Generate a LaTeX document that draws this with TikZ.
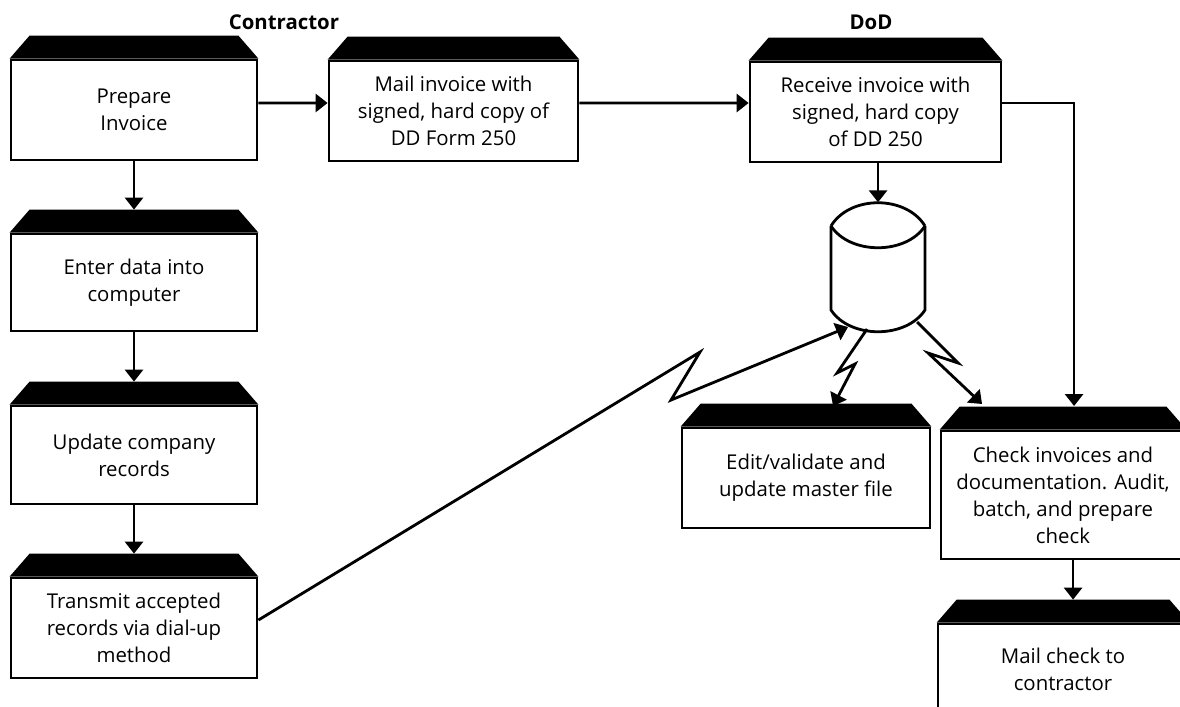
\documentclass[tikz,border=0pt]{standalone}
\usepackage{fontspec}
\setmainfont{Open Sans}
\usetikzlibrary{arrows.meta,calc}
\tikzset{
  docbox/.style={draw=black,line width=0.8pt,align=center,inner sep=0pt,
    font=\fontsize{5.8}{7.7}\selectfont},
  headlabel/.style={inner sep=0pt,font=\fontsize{5.8}{7.7}\selectfont\bfseries},
  link/.style={draw=black,line width=0.8pt,-{Triangle[length=1.2mm,width=1.8mm]}},
}
\begin{document}
\begin{tikzpicture}[scale=0.1]
\useasboundingbox (0,0) rectangle (118,-70.7);
\node [headlabel] (contractor) at (28.4,-2.2) {Contractor};
\node [headlabel] (dod) at (87.1,-2.2) {DoD};
\node [docbox,minimum width=2.46cm,minimum height=1cm] (prepare) at (13.4,-11) {Prepare\\Invoice};
\node [docbox,minimum width=2.49cm,minimum height=1cm] (mail) at (45.35,-11.1) {Mail invoice with\\signed, hard copy of\\DD Form 250};
\node [docbox,minimum width=2.51cm,minimum height=1cm] (receive) at (87.55,-11.2) {Receive invoice with\\signed, hard copy\\of DD 250};
\node [docbox,minimum width=2.46cm,minimum height=0.97cm] (enter) at (13.4,-28.25) {Enter data into\\computer};
\node [docbox,minimum width=2.46cm,minimum height=0.98cm] (update) at (13.4,-45.5) {Update company\\records};
\node [docbox,minimum width=2.46cm,minimum height=1cm] (transmit) at (13.4,-62.8) {Transmit accepted\\records via dial-up\\method};
\node [docbox,minimum width=2.48cm,minimum height=1cm] (edit) at (80.6,-47.8) {Edit/validate and\\update master file};
\node [docbox,minimum width=2.44cm,minimum height=1.28cm] (check) at (106.3,-49.5) {Check invoices and\\documentation. Audit,\\batch, and prepare\\check};
\node [docbox,minimum width=2.5cm,minimum height=0.9cm] (mailcheck) at (106.3,-66.9) {Mail check to\\contractor};
\node [minimum width=0.94cm,minimum height=1.29cm,inner sep=0pt] (disk) at (87.8,-26.75) {};
% black tabs on top of the boxes
\foreach \n in {prepare,mail,receive,enter,update,transmit,edit,check,mailcheck}
  \fill [black] (\n.north west) -- ($(\n.north west)+(2,2.3)$) -- ($(\n.north east)+(-2,2.3)$) -- (\n.north east) -- cycle;
% disk
\draw [line width=0.8pt] (83.1,-22.6) .. controls (85,-19.5) and (90.6,-19.5) .. (92.5,-22.6);
\draw [line width=0.8pt] (83.1,-22.6) .. controls (85,-25.5) and (90.6,-25.5) .. (92.5,-22.6);
\draw [line width=0.8pt] (83.1,-22.6) -- (83.1,-31) .. controls (85,-33.9) and (90.6,-33.9) .. (92.5,-31) -- (92.5,-22.6);
\coordinate (diskl) at (84.8,-32.7);
\coordinate (diskm) at (86.7,-32.9);
\coordinate (diskr) at (91.7,-32.2);
\coordinate (zigta) at (70,-35.2);
\coordinate (zigtb) at (67.1,-40);
\coordinate (zigea) at (83.7,-37.3);
\coordinate (zigeb) at (85.5,-36.4);
\coordinate (editin) at (83.3,-40.6);
\coordinate (zigca) at (95.8,-36.3);
\coordinate (zigcb) at (92.8,-35.3);
\coordinate (checkin) at (98.2,-40.4);
\coordinate (checktop) at (107.4,-40.6);
% arrows
\draw [link] (prepare.south) -- ([yshift=2.3cm]enter.north);
\draw [link] (enter.south) -- ([yshift=2.3cm]update.north);
\draw [link] (update.south) -- ([yshift=2.3cm]transmit.north);
\draw [link] ([yshift=0.7cm]prepare.east) -- ([yshift=0.8cm]mail.west);
\draw [link] ([yshift=0.8cm]mail.east) -- ([yshift=0.9cm]receive.west);
\draw [link] ([yshift=0.9cm]receive.east) -| (checktop);
\draw [link] (receive.south -| disk.north) -- (disk.north);
\draw [link] ([xshift=1cm]check.south) -- ([xshift=1cm,yshift=2.3cm]mailcheck.north);
\draw [link] ([yshift=0.8cm]transmit.east) -- (zigta) -- (zigtb) -- (diskl);
\draw [link] (diskm) -- (zigea) -- (zigeb) -- (editin);
\draw [link] (diskr) -- (zigca) -- (zigcb) -- (checkin);
\end{tikzpicture}
\end{document}
